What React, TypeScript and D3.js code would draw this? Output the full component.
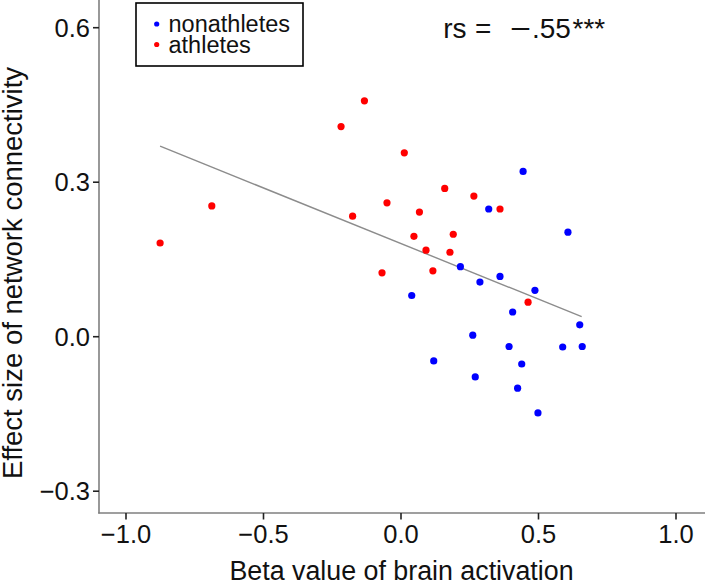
import React from "react";
import * as d3 from "d3";

const athletesX = [-0.876, -0.688, -0.218, -0.133, 0.012, 0.159, 0.265, 0.36, -0.051, -0.176, 0.067, 0.047, 0.19, 0.091, 0.178, -0.069, 0.116, 0.462];
const athletesY = [0.182, 0.254, 0.408, 0.458, 0.357, 0.288, 0.273, 0.248, 0.26, 0.234, 0.242, 0.195, 0.199, 0.168, 0.164, 0.124, 0.128, 0.067];
const nonathletesX = [0.319, 0.444, 0.607, 0.216, 0.36, 0.287, 0.487, 0.039, 0.406, 0.65, 0.261, 0.393, 0.588, 0.659, 0.119, 0.439, 0.27, 0.424, 0.498];
const nonathletesY = [0.248, 0.321, 0.203, 0.136, 0.117, 0.106, 0.09, 0.08, 0.048, 0.023, 0.003, -0.019, -0.02, -0.019, -0.047, -0.053, -0.078, -0.1, -0.148];
const fitX = [-0.876, 0.657];
const fitY = [0.37, 0.039];
const xTicks = [-1.0, -0.5, 0.0, 0.5, 1.0];
const yTicks = [-0.3, 0.0, 0.3, 0.6];
const groups = ["nonathletes", "athletes"];
const groupColors = ["#0000FF", "#FF0000"];

const W = 705;
const H = 585;
const FONT = "'Liberation Sans', Arial, sans-serif";

export default function App() {
  const x = d3.scaleLinear().domain([-1.1, 1.1]).range([98.5, 703.5]);
  const y = d3.scaleLinear().domain([-0.3423, 0.6538]).range([513, 0]);
  const fmt = (v: number) => (v < 0 ? "\u2212" : "") + d3.format(".1f")(Math.abs(v));
  const line = d3
    .line<[number, number]>()
    .x((d) => x(d[0]))
    .y((d) => y(d[1]));
  const fitPts: [number, number][] = fitX.map((v, i) => [v, fitY[i]]);
  const series = [
    { xs: nonathletesX, ys: nonathletesY, color: groupColors[0] },
    { xs: athletesX, ys: athletesY, color: groupColors[1] },
  ];

  return (
    <div style={{ position: "absolute", left: 0, top: 0 }}>
      <svg width={W} height={H} style={{ display: "block", background: "#fff" }} fontFamily={FONT}>
        <rect x={0} y={0} width={W} height={H} fill="#fff" />
        {/* fit line */}
        <path d={line(fitPts) || ""} fill="none" stroke="#8c8c8c" strokeWidth={1.4} />
        {/* points */}
        {series.map((s, si) =>
          s.xs.map((v, i) => (
            <circle key={`${si}-${i}`} cx={x(v)} cy={y(s.ys[i])} r={3.6} fill={s.color} />
          ))
        )}
        {/* axes */}
        <line x1={99} x2={99} y1={0} y2={513.5} stroke="#7f7f7f" strokeWidth={1.6} />
        <line x1={98.2} x2={705} y1={513} y2={513} stroke="#7f7f7f" strokeWidth={1.6} />
        {yTicks.map((t) => (
          <g key={`y${t}`}>
            <line x1={93} x2={99} y1={y(t)} y2={y(t)} stroke="#222" strokeWidth={1.6} />
            <text x={90} y={y(t) + 9} textAnchor="end" fontSize={25.5} fill="#111">
              {fmt(t)}
            </text>
          </g>
        ))}
        {xTicks.map((t) => (
          <g key={`x${t}`}>
            <line x1={x(t)} x2={x(t)} y1={513} y2={519.5} stroke="#222" strokeWidth={1.6} />
            <text x={x(t)} y={543} textAnchor="middle" fontSize={25.5} fill="#111">
              {fmt(t)}
            </text>
          </g>
        ))}
        {/* axis titles */}
        <text x={401.5} y={580} textAnchor="middle" fontSize={26.8} fill="#111">
          Beta value of brain activation
        </text>
        <text
          transform={`translate(21.5,273) rotate(-90)`}
          textAnchor="middle"
          fontSize={27.5}
          fill="#111"
        >
          Effect size of network connectivity
        </text>
        {/* annotation */}
        <text y={38.3} fontSize={28} fill="#111">
          <tspan x={443.3}>rs</tspan>
          <tspan x={475}>=</tspan>
          <tspan x={510} textLength={21} lengthAdjust="spacingAndGlyphs">{"\u2212"}</tspan>
          <tspan x={532}>.55</tspan>
          <tspan x={572.5}>***</tspan>
        </text>
        {/* legend */}
        <rect x={136} y={3} width={167} height={63} fill="#fff" stroke="#000" strokeWidth={1.6} />
        {groups.map((g, i) => (
          <g key={g}>
            <circle cx={156.7} cy={24 + i * 20.5} r={2.6} fill={groupColors[i]} />
            <text x={168.5} y={31.7 + i * 21.6} fontSize={23.5} fill="#111">
              {g}
            </text>
          </g>
        ))}
      </svg>
    </div>
  );
}
